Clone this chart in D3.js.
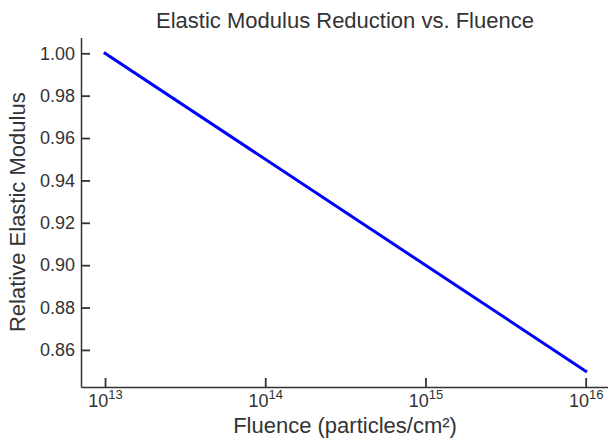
<!DOCTYPE html>
<html>
<head>
<meta charset="utf-8">
<script src="https://cdn.jsdelivr.net/npm/d3@7"></script>
<style>
  html, body { margin: 0; padding: 0; background: #fff; }
  svg { display: block; font-family: "Liberation Sans", Arial, sans-serif; }
</style>
</head>
<body>
<svg id="chart" width="608" height="438"></svg>
<script>
// ---- data ----
const fluence = [1e13, 1e16];
const relModulus = [1.00, 0.85];
const yTicks = [0.86, 0.88, 0.90, 0.92, 0.94, 0.96, 0.98, 1.00];
const xTickExps = [13, 14, 15, 16];
const titleText = "Elastic Modulus Reduction vs. Fluence";
const xLabelText = "Fluence (particles/cm²)";
const yLabelText = "Relative Elastic Modulus";

// ---- layout ----
const W = 608, H = 438;
const plot = { left: 81, right: 609.7, top: 37.4, bottom: 387 };
const textColor = "#333";

const svg = d3.select("#chart");

const x = d3.scaleLog()
  .domain([Math.pow(10, 12.85), Math.pow(10, 16.15)])
  .range([plot.left, plot.right]);
const y = d3.scaleLinear()
  .domain([0.8425, 1.0075])
  .range([plot.bottom, plot.top]);

// line
const data = fluence.map((f, i) => ({ f, v: relModulus[i] }));
svg.append("path")
  .datum(data)
  .attr("fill", "none")
  .attr("stroke", "#0000ff")
  .attr("stroke-width", 3)
  .attr("stroke-linecap", "square")
  .attr("d", d3.line().x(d => x(d.f)).y(d => y(d.v)));

// y axis (ticks inward)
const yAxis = d3.axisLeft(y)
  .tickValues(yTicks)
  .tickSizeInner(-9)
  .tickSizeOuter(0)
  .tickPadding(6)
  .tickFormat(d3.format(".2f"));
const gy = svg.append("g")
  .attr("transform", `translate(${plot.left},0)`)
  .call(yAxis);
gy.select(".domain").attr("stroke", textColor).attr("stroke-width", 1.5);
gy.selectAll(".tick line").attr("stroke", textColor).attr("stroke-width", 1.8);
gy.selectAll(".tick text")
  .attr("fill", textColor)
  .style("font-size", "18px")
  .style("font-family", "Liberation Sans, Arial, sans-serif")
  .attr("x", -6);

// x axis (ticks inward)
const xAxis = d3.axisBottom(x)
  .tickValues(xTickExps.map(e => Math.pow(10, e)))
  .tickSizeInner(-9)
  .tickSizeOuter(0)
  .tickFormat("");
const gx = svg.append("g")
  .attr("transform", `translate(0,${plot.bottom})`)
  .call(xAxis);
gx.select(".domain").attr("stroke", textColor).attr("stroke-width", 1.5);
gx.selectAll(".tick line").attr("stroke", textColor).attr("stroke-width", 1.8);
gx.selectAll(".tick").each(function(d, i) {
  const t = d3.select(this).append("text")
    .attr("y", 20)
    .attr("text-anchor", "middle")
    .attr("fill", textColor)
    .style("font-size", "18px")
    .style("font-family", "Liberation Sans, Arial, sans-serif");
  t.append("tspan").text("10");
  t.append("tspan")
    .attr("dy", -8)
    .style("font-size", "13px")
    .text(String(xTickExps[i]));
});

// title
svg.append("text")
  .attr("x", 345)
  .attr("y", 27.5)
  .attr("text-anchor", "middle")
  .attr("fill", textColor)
  .style("font-size", "22px")
  .text(titleText);

// x label
svg.append("text")
  .attr("x", 345)
  .attr("y", 433)
  .attr("text-anchor", "middle")
  .attr("fill", textColor)
  .style("font-size", "22px")
  .text(xLabelText);

// y label
svg.append("text")
  .attr("transform", `translate(25,${(plot.top + plot.bottom) / 2}) rotate(-90)`)
  .attr("text-anchor", "middle")
  .attr("fill", textColor)
  .style("font-size", "22px")
  .text(yLabelText);
</script>
</body>
</html>
